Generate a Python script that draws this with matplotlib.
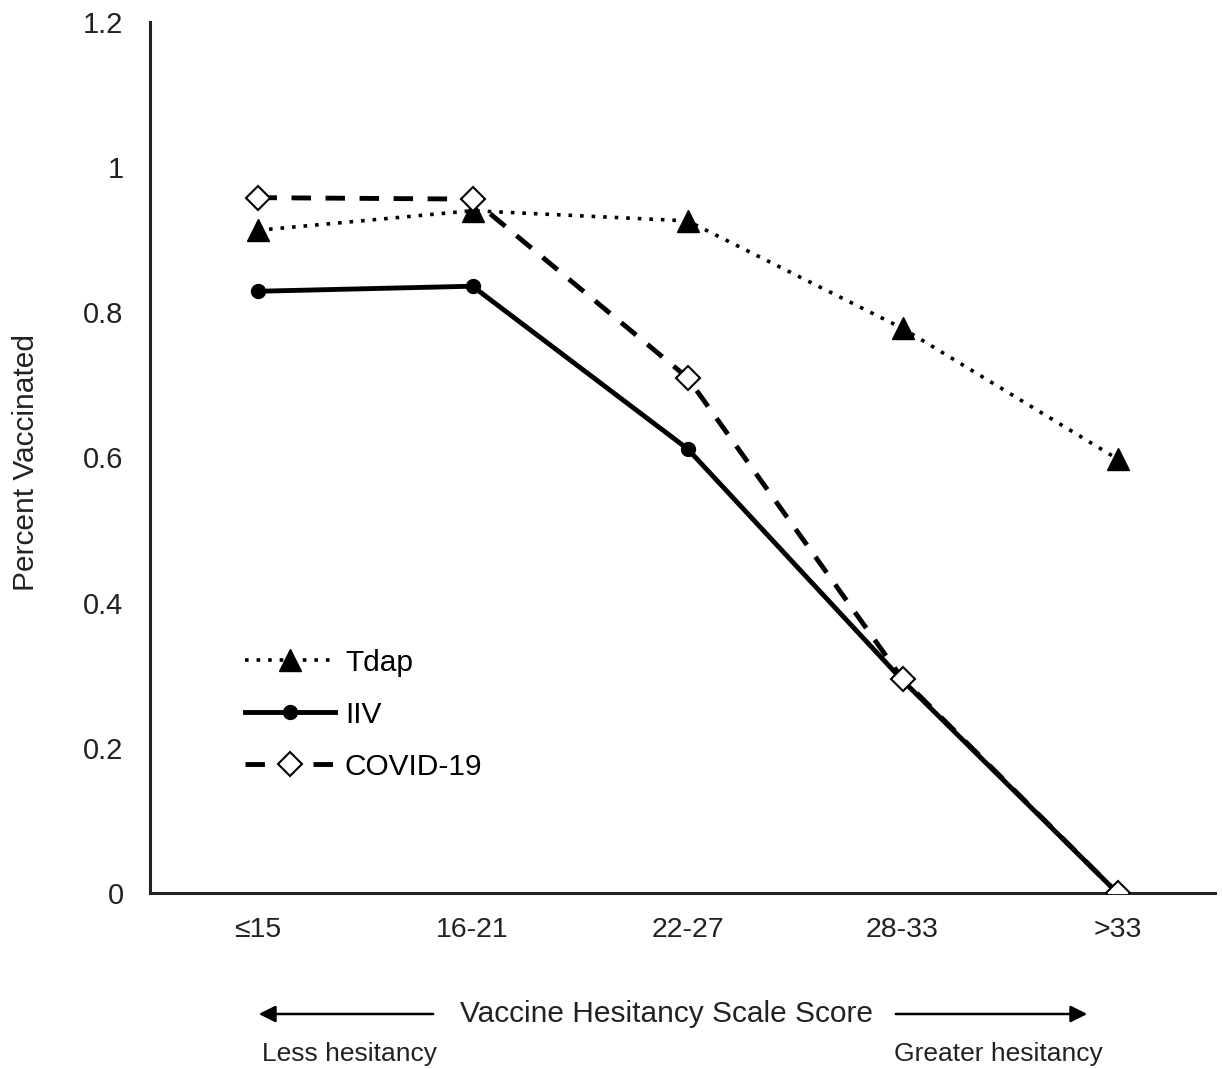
import matplotlib
matplotlib.use("Agg")
import matplotlib.pyplot as plt

categories = ["≤15", "16-21", "22-27", "28-33", ">33"]
tdap = [0.913, 0.940, 0.926, 0.778, 0.598]
iiv = [0.829, 0.836, 0.612, 0.293, 0.0]
covid = [0.958, 0.956, 0.710, 0.295, 0.0]

plt.rcParams['font.family'] = ['Liberation Sans', 'DejaVu Sans']

W, H = 1222, 1069
fig = plt.figure(figsize=(W / 100, H / 100), dpi=100)
ax = fig.add_axes([150 / W, 1 - 893 / H, (1215 - 150) / W, (893 - 22) / H])

x = list(range(len(categories)))
ax.plot(x, tdap, linestyle=(0, (1, 2.2)), color='black', linewidth=2.6,
        marker='^', markersize=16, markerfacecolor='black', markeredgecolor='black', label='Tdap', zorder=3)
ax.plot(x, iiv, linestyle='-', color='black', linewidth=3.5,
        marker='o', markersize=10, markerfacecolor='black', markeredgecolor='black', label='IIV', zorder=3)
ax.plot(x, covid, linestyle=(0, (4, 3)), color='black', linewidth=3.5,
        marker='D', markersize=12, markerfacecolor='white', markeredgecolor='black',
        markeredgewidth=1.5, label='COVID-19', zorder=4)

ax.set_xlim(-0.5, (1215 - 150) / 215 - 0.5)
ax.set_ylim(0, 1.2)
ax.set_yticks([0, 0.2, 0.4, 0.6, 0.8, 1.0, 1.2])
ax.set_yticklabels(["0", "0.2", "0.4", "0.6", "0.8", "1", "1.2"])
ax.set_xticks(x)
ax.set_xticklabels(categories)
ax.tick_params(axis='both', length=0, colors='#222222')
ax.tick_params(axis='x', pad=17, labelsize=20.5)
ax.tick_params(axis='y', pad=19, labelsize=21)
for s in ['top', 'right']:
    ax.spines[s].set_visible(False)
for s in ['left', 'bottom']:
    ax.spines[s].set_linewidth(2.2)
    ax.spines[s].set_color('#222222')

fig.text(26 / W, 1 - 462 / H, "Percent Vaccinated", rotation=90, ha='center', va='center',
         fontsize=21.5, color='#222222')

leg = ax.legend(loc='upper left', bbox_to_anchor=(83 / 1065, (893 - 637) / 871),
                frameon=False, fontsize=21.5, handlelength=3.0, labelspacing=0.8,
                handletextpad=0.35, borderaxespad=0)

# bottom annotation
fig.text(667 / W, 1 - 1014 / H, "Vaccine Hesitancy Scale Score", ha='center', va='center',
         fontsize=21.5, color='#222222')
fig.text(262 / W, 1 - 1054 / H, "Less hesitancy", ha='left', va='center',
         fontsize=19, color='#222222')
fig.text(1103 / W, 1 - 1054 / H, "Greater hesitancy", ha='right', va='center',
         fontsize=19, color='#222222')
ax.annotate("", xy=(256 / W, 1 - 1014 / H), xytext=(436 / W, 1 - 1014 / H),
            xycoords='figure fraction', textcoords='figure fraction',
            arrowprops=dict(arrowstyle='-|>', color='black', lw=1.8, mutation_scale=25))
ax.annotate("", xy=(1090 / W, 1 - 1014 / H), xytext=(893 / W, 1 - 1014 / H),
            xycoords='figure fraction', textcoords='figure fraction',
            arrowprops=dict(arrowstyle='-|>', color='black', lw=1.8, mutation_scale=25))

fig.savefig("out.png", dpi=100)
